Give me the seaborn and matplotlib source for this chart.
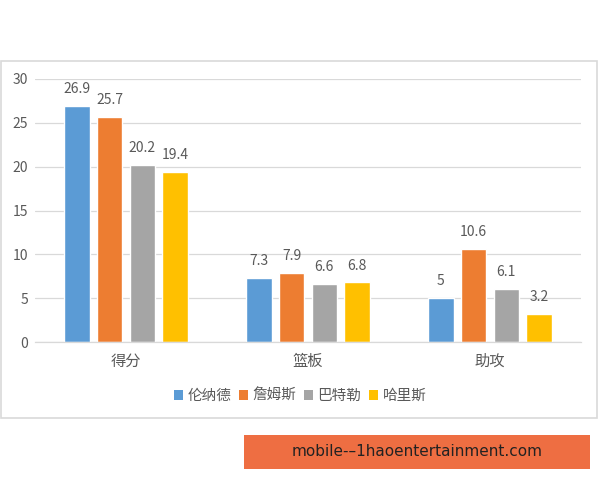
import matplotlib
matplotlib.use("Agg")
import matplotlib.pyplot as plt
from matplotlib.patches import Rectangle, Patch
import seaborn as sns
import pandas as pd

categories = ["得分", "篮板", "助攻"]
players = ["伦纳德", "詹姆斯", "巴特勒", "哈里斯"]
leonard = [26.9, 7.3, 5]
james = [25.7, 7.9, 10.6]
butler = [20.2, 6.6, 6.1]
harris = [19.4, 6.8, 3.2]
colors = ["#5B9BD5", "#ED7D31", "#A5A5A5", "#FFC000"]
yticks = [0, 5, 10, 15, 20, 25, 30]

rows = []
for p, vals in zip(players, [leonard, james, butler, harris]):
    for c, v in zip(categories, vals):
        rows.append({"cat": c, "player": p, "val": v})
df = pd.DataFrame(rows)

sns.set_theme(style="white")
plt.rcParams['font.family'] = ['Noto Sans CJK SC', 'DejaVu Sans']

fig = plt.figure(figsize=(6, 4.8), dpi=100)
ax = fig.add_axes([35/600, 1-342/480, (581-35)/600, (342-79)/480])

sns.barplot(data=df, x="cat", y="val", hue="player", order=categories,
            hue_order=players, palette=colors, width=0.72, gap=0.22,
            ax=ax, legend=False, saturation=1)

txt = "#595959"
for cont in ax.containers:
    ax.bar_label(cont, labels=[("%g" % v) for v in cont.datavalues],
                 padding=7, fontsize=10, color=txt)

ax.set_ylim(0, 30)
ax.set_yticks(yticks)
ax.set_yticklabels([str(t) for t in yticks], fontsize=10, color=txt)
ax.set_xlim(-0.5, 2.5)
ax.set_xlabel("")
ax.set_ylabel("")
ax.tick_params(axis="x", labelsize=11, labelcolor=txt, length=0, pad=8)
ax.tick_params(axis="y", length=0, pad=5)
ax.yaxis.grid(True, color="#D9D9D9", linewidth=0.9)
ax.set_axisbelow(True)
for s in ["top", "right", "left"]:
    ax.spines[s].set_visible(False)
ax.spines["bottom"].set_color("#D9D9D9")
ax.spines["bottom"].set_linewidth(0.9)

handles = [Patch(facecolor=c, edgecolor="none", label=p) for c, p in zip(colors, players)]
fig.legend(handles=handles, loc="center", bbox_to_anchor=(0.5, 1-396/480), ncol=4,
           frameon=False, fontsize=10.5, labelcolor=txt, handlelength=0.65,
           handleheight=0.65, handletextpad=0.3, columnspacing=0.5)

fig.patches.append(Rectangle((1/600, 1-418/480), 596/600, (418-61)/480,
                             transform=fig.transFigure, fill=False,
                             edgecolor="#D9D9D9", linewidth=1.2))
fig.patches.append(Rectangle((244/600, 1-469/480), 346/600, 34/480,
                             transform=fig.transFigure, facecolor="#EE6E42",
                             edgecolor="none"))
fig.text(417/600, 1-452/480, "mobile-–1haoentertainment.com", ha="center",
         va="center", fontsize=11, color="#222222",
         family=['DejaVu Sans'])

fig.savefig("out.png", dpi=100)
